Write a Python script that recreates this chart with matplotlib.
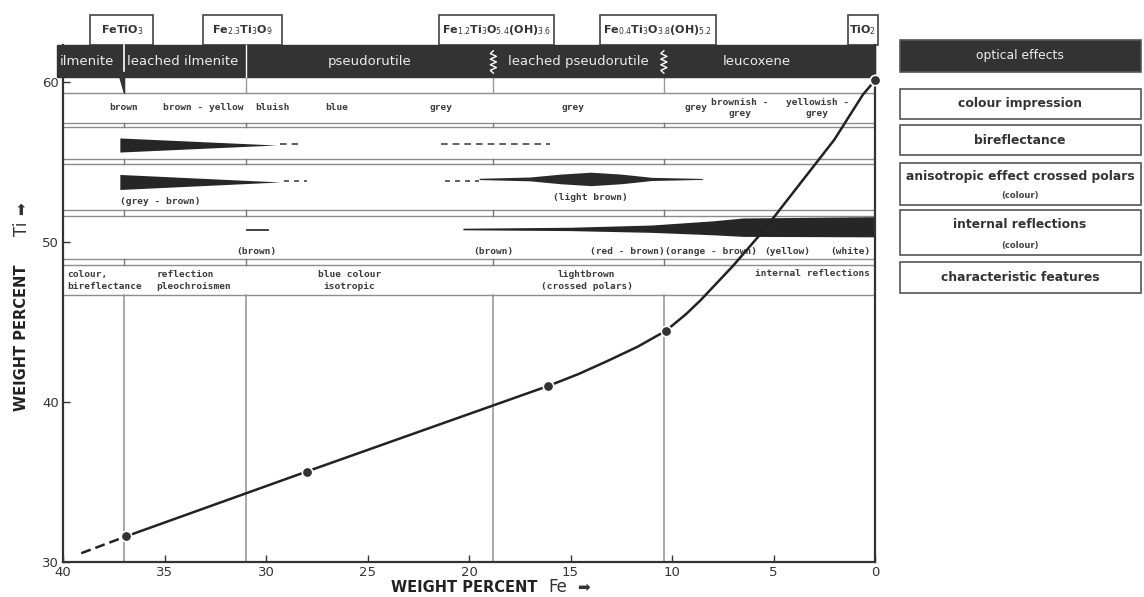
import numpy as np
import matplotlib
matplotlib.use('Agg')
import matplotlib.pyplot as plt
from matplotlib.patches import Rectangle, Polygon

# ---- data ----
# Fe / Ti curve (weight percent)
fe_dash = [39.1, 36.9]
ti_dash = [30.55, 31.6]
fe_curve = [36.9, 28.0, 22.0, 16.1, 14.6, 13.2, 11.7, 10.3, 9.3, 8.6, 7.0, 5.5, 2.0, 0.6, 0.0]
ti_curve = [31.6, 35.65, 38.35, 41.0, 41.75, 42.55, 43.45, 44.45, 45.5, 46.35, 48.5, 50.7,
            56.4, 59.2, 60.1]
fe_points = [36.9, 28.0, 16.1, 10.3, 0.0]
ti_points = [31.6, 35.65, 41.0, 44.45, 60.1]

# phase boundaries (Fe wt%) and names
boundaries = [37.0, 31.0, 18.8, 10.4]
phases = ['ilmenite', 'leached ilmenite', 'pseudorutile', 'leached pseudorutile', 'leucoxene']
phase_fe = [38.8, 34.1, 24.9, 14.6, 5.8]
formulas = ['FeTiO$_3$', 'Fe$_{2.3}$Ti$_3$O$_9$', 'Fe$_{1.2}$Ti$_3$O$_{5.4}$(OH)$_{3.6}$',
            'Fe$_{0.4}$Ti$_3$O$_{3.8}$(OH)$_{5.2}$', 'TiO$_2$']
formula_fe = [37.1, 31.15, 18.65, 10.7, 0.6]
formula_w = [3.1, 3.9, 5.7, 5.7, 1.5]

# colour impression row
colour_txt = ['brown', 'brown - yellow', 'bluish', 'blue', 'grey', 'grey', 'grey',
              'brownish -\ngrey', 'yellowish -\ngrey']
colour_fe = [37.0, 33.1, 29.7, 26.5, 21.4, 14.9, 8.8, 6.65, 2.85]

# bireflectance wedge
bir_fe = [37.2, 29.5]
bir_half = [0.44, 0.0]
bir_dash_fe = [[29.3, 28.4], [21.4, 16.0]]

# anisotropic effect
ani_fe = [37.2, 29.3]
ani_half = [0.47, 0.0]
ani_dash_fe = [[29.1, 28.0], [21.2, 19.5]]
spin_fe = [19.5, 17.0, 15.5, 14.0, 12.5, 11.0, 8.5]
spin_half = [0.04, 0.12, 0.3, 0.42, 0.3, 0.1, 0.03]
ani_txt = ['(grey - brown)', '(light brown)']
ani_txt_fe = [35.2, 14.0]

# internal reflections
int_fe = [20.3, 15.0, 11.0, 8.0, 6.5, 0.0]
int_top = [50.86, 50.92, 51.06, 51.32, 51.5, 51.58]
int_bot = [50.76, 50.71, 50.6, 50.45, 50.35, 50.32]
int_txt = ['(brown)', '(brown)', '(red - brown)', '(orange - brown)', '(yellow)', '(white)']
int_txt_fe = [30.45, 18.8, 12.2, 8.1, 4.3, 1.2]

# characteristic features
feat_txt = ['colour,\nbireflectance', 'reflection\npleochroismen', 'blue colour\nisotropic',
            'lightbrown\n(crossed polars)']
feat_fe = [39.8, 35.4, 25.9, 14.2]
feat_ha = ['left', 'left', 'center', 'center']

legend_labels = ['optical effects', 'colour impression', 'bireflectance',
                 'anisotropic effect crossed polars', 'internal reflections',
                 'characteristic features']
legend_sub = ['', '', '', '(colour)', '(colour)', '']
legend_box = [(40, 72), (89, 119), (125, 155), (163, 205), (210, 255), (262, 293)]

DARK = '#333333'
GRID = '#8c8c8c'
txt = dict(family='DejaVu Sans Mono', fontweight='bold', fontsize=6.8, color='#3a3a3a')

fig = plt.figure(figsize=(11.44, 5.97), dpi=100)
ax = fig.add_axes([63/1144, 35/597, 812/1144, 517/597])
ax.set_xlim(40, 0)
ax.set_ylim(30, 62.31)

def fx(px):
    return px / 1144

def fy(py):
    return 1 - py / 597

# band with phase names
ax.add_patch(Rectangle((0, 60.31), 40.3, 2.0, color=DARK, clip_on=False, zorder=3))
for name, f in zip(phases, phase_fe):
    ax.text(f, 61.3, name, ha='center', va='center', color='#ececec', fontsize=9.5, zorder=5)
ax.plot([37.0, 37.0], [60.31, 62.31], color='white', lw=1.2, zorder=4, clip_on=False)
ax.plot([31.0, 31.0], [60.31, 62.31], color='white', lw=1.0, zorder=4, clip_on=False)
ax.add_patch(Polygon([(37.3, 60.6), (37.0, 60.6), (37.0, 59.31)], color=DARK, zorder=4))
for b in [18.8, 10.4]:
    zy = np.linspace(60.55, 61.95, 9)
    zx = b + 0.15 * np.array([0, 1, -1, 1, -1, 1, -1, 1, 0])
    ax.plot(zx, zy, color='white', lw=1.0, zorder=4)

# formula callouts above band
for lab, f, w in zip(formulas, formula_fe, formula_w):
    ax.add_patch(Rectangle((f + w / 2, 62.31), -w, 1.9, facecolor='white', edgecolor='#444',
                           lw=1.2, clip_on=False, zorder=2))
    ax.text(f, 63.25, lab, ha='center', va='center', fontsize=8, fontweight='bold',
            color='#333', clip_on=False)

# rows
seps = [59.31, 57.44, 57.19, 55.19, 54.88, 52.0, 51.63, 48.94, 48.56, 46.69]
for s in seps:
    ax.axhline(s, color=GRID, lw=1.0, zorder=1)
for b in boundaries:
    ax.plot([b, b], [30, 46.69], color='#999999', lw=1.2, zorder=1)
    ax.plot([b, b], [59.31, 60.31], color='#999999', lw=1.0, zorder=1)
    for a, c in [(57.44, 57.19), (55.19, 54.88), (52.0, 51.63), (48.94, 48.56)]:
        ax.plot([b, b], [c, a], color='#777777', lw=1.0, zorder=1)

for t, f in zip(colour_txt, colour_fe):
    ax.text(f, 58.38, t, ha='center', va='center', linespacing=1.3, **txt)

# bireflectance
ax.fill_between(bir_fe, [56.06 + h for h in bir_half], [56.06 - h for h in bir_half],
                color='#262626', lw=0)
for d in bir_dash_fe:
    ax.plot(d, [56.1, 56.1], color='#444', lw=1.2, ls=(0, (4, 3)))

# anisotropic
ax.fill_between(ani_fe, [53.75 + h for h in ani_half], [53.75 - h for h in ani_half],
                color='#262626', lw=0)
for d in ani_dash_fe:
    ax.plot(d, [53.8, 53.8], color='#444', lw=1.2, ls=(0, (3, 3)))
ax.fill_between(spin_fe, [53.94 + h for h in spin_half], [53.94 - h for h in spin_half],
                color='#2a2a2a', lw=0)
ax.text(ani_txt_fe[0], 52.56, ani_txt[0], ha='center', va='center', **txt)
ax.text(ani_txt_fe[1], 52.81, ani_txt[1], ha='center', va='center', **txt)

# internal reflections
ax.plot([30.95, 29.9], [50.75, 50.75], color='#333', lw=1.3)
ax.fill_between(int_fe, int_top, int_bot, color='#262626', lw=0)
for t, f in zip(int_txt, int_txt_fe):
    ax.text(f, 49.38, t, ha='center', va='center', **txt)

# characteristic features
for t, f, h in zip(feat_txt, feat_fe, feat_ha):
    ax.text(f, 47.57, t, ha=h, va='center', linespacing=1.45, **txt)
ax.text(3.1, 48.0, 'internal reflections', ha='center', va='center', **txt)

# curve
ax.plot(fe_dash, ti_dash, color='#222', lw=1.8, ls=(0, (4, 2)), zorder=6)
ax.plot(fe_curve, ti_curve, color='#222', lw=1.8, zorder=6)
ax.plot(fe_points, ti_points, 'o', color='#333', ms=7.5, mec='white', mew=1.2, zorder=7,
        clip_on=False)

# axes styling
ax.spines['top'].set_visible(False)
for s in ['left', 'bottom', 'right']:
    ax.spines[s].set_color('#333')
    ax.spines[s].set_linewidth(1.6)
ax.set_xticks(np.arange(0, 41, 5))
ax.set_yticks([30, 40, 50, 60])
ax.tick_params(direction='in', length=5, width=1, labelsize=9.5, colors='#333', pad=3)

# axis titles
fig.text(fx(464), fy(588), 'WEIGHT PERCENT', ha='center', va='center', fontsize=10.5,
         fontweight='bold', color='#222')
fig.text(fx(558), fy(587), 'Fe', ha='center', va='center', fontsize=12, color='#333')
fig.text(fx(584), fy(587), '\u27a1', ha='center', va='center', fontsize=11, color='#333')
fig.text(fx(22), fy(338), 'WEIGHT PERCENT', ha='center', va='center', rotation=90,
         fontsize=10.5, fontweight='bold', color='#222')
fig.text(fx(22), fy(229), 'Ti', ha='center', va='center', rotation=90, fontsize=12,
         color='#333')
fig.text(fx(22), fy(209), '\u27a1', ha='center', va='center', rotation=90, fontsize=11,
         color='#333')

# legend boxes on the right
for i, (lab, sub, (y0, y1)) in enumerate(zip(legend_labels, legend_sub, legend_box)):
    dark = i == 0
    fig.add_artist(Rectangle((fx(900), fy(y1)), fx(1141) - fx(900), fy(y0) - fy(y1),
                             transform=fig.transFigure, facecolor=DARK if dark else 'white',
                             edgecolor='#555', lw=1.2))
    if sub:
        ym = y0 + (y1 - y0) * 0.33
        fig.text(fx(1020), fy(ym), lab, ha='center', va='center', fontsize=8.9,
                 fontweight='bold', color='#333')
        fig.text(fx(1020), fy(y0 + (y1 - y0) * 0.78), sub, ha='center', va='center',
                 fontsize=6, fontweight='bold', color='#444')
    else:
        fig.text(fx(1020), fy((y0 + y1) / 2), lab, ha='center', va='center', fontsize=8.9,
                 fontweight='normal' if dark else 'bold',
                 color='#eeeeee' if dark else '#333')

fig.savefig('out.png', dpi=100)
